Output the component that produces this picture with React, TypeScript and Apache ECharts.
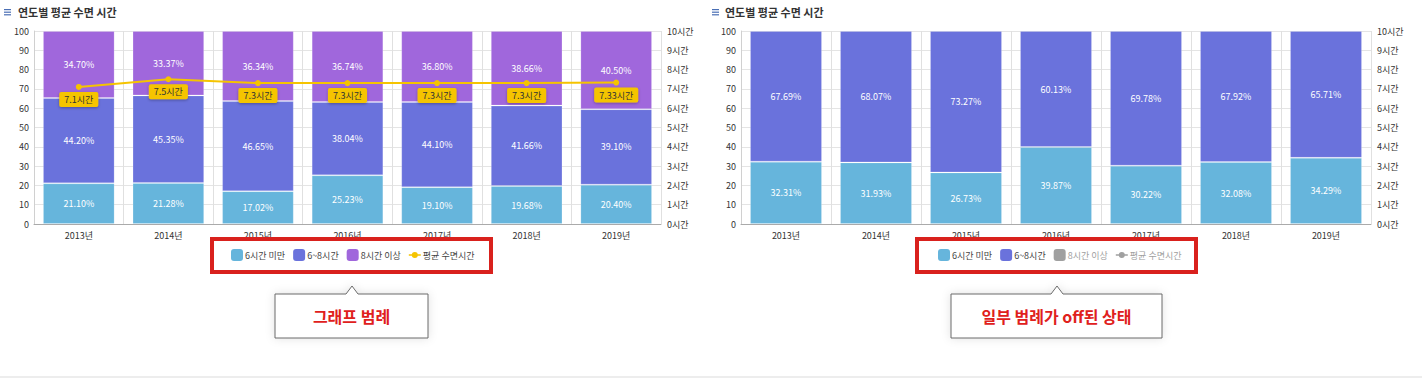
import React, { useEffect, useRef } from "react";
import * as echarts from "echarts";

const years = ["2013년", "2014년", "2015년", "2016년", "2017년", "2018년", "2019년"];
const under6 = [21.1, 21.28, 17.02, 25.23, 19.1, 19.68, 20.4];
const mid6to8 = [44.2, 45.35, 46.65, 38.04, 44.1, 41.66, 39.1];
const over8 = [34.7, 33.37, 36.34, 36.74, 36.8, 38.66, 40.5];
const avgHours = [7.1, 7.5, 7.3, 7.3, 7.3, 7.3, 7.33];

const under6Off = [32.31, 31.93, 26.73, 39.87, 30.22, 32.08, 34.29];
const mid6to8Off = [67.69, 68.07, 73.27, 60.13, 69.78, 67.92, 65.71];

const seriesNames = ["6시간 미만", "6~8시간", "8시간 이상", "평균 수면시간"];
const leftTicks = { min: 0, max: 100, interval: 10 };
const rightTicks = { min: 0, max: 10, interval: 1 };

const FONT = "'Noto Sans CJK KR', 'Noto Sans', sans-serif";
const C_LIGHT = "#66b5dc";
const C_MID = "#6a72dc";
const C_PURPLE = "#a067dc";
const C_YELLOW = "#f5c400";
const LINE_ICON = "path://M0,5.25H3.2V6.75H0Z M8.8,5.25H12V6.75H8.8Z M9,6A3,3 0 1 1 3,6A3,3 0 1 1 9,6Z";

type Cfg = {
  gridLeft: number;
  gridRight: number;
  titleIconX: number;
  titleX: number;
  legendLeft: number;
  selected: Record<string, boolean>;
  a: number[];
  b: number[];
  c: number[];
  redBox: [number, number, number, number];
  callout: [number, number, number];
  calloutText: string;
};

function buildOption(cfg: Cfg) {
  const barLabel = {
    show: true,
    position: "inside",
    color: "#fff",
    fontSize: 9,
    fontFamily: FONT,
    formatter: (p: any) => Number(p.value).toFixed(2) + "%",
  };
  const barItem = (color: string) => ({
    color,
    borderColor: "rgba(255,255,255,0.18)",
    borderWidth: 1,
  });
  const [bx1, by1, bx2, by2] = cfg.redBox;
  const [cx1, cx2, px] = cfg.callout;
  const cy1 = 294;
  const cy2 = 338;
  return {
    animation: false,
    textStyle: { fontFamily: FONT },
    grid: { left: cfg.gridLeft, right: cfg.gridRight, top: 31, bottom: 154, containLabel: false },
    legend: {
      left: cfg.legendLeft,
      top: 249,
      padding: 0,
      itemWidth: 12,
      itemHeight: 12,
      itemGap: 8,
      symbolKeepAspect: true,
      inactiveColor: "#a0a0a0",
      inactiveBorderWidth: 0,
      itemStyle: { borderWidth: 0 },
      textStyle: { fontSize: 9, color: "#444", fontFamily: FONT, padding: [0, 0, 0, -3] },
      selected: cfg.selected,
      data: [
        { name: seriesNames[0], icon: "roundRect" },
        { name: seriesNames[1], icon: "roundRect" },
        { name: seriesNames[2], icon: "roundRect" },
        { name: seriesNames[3], icon: LINE_ICON },
      ],
    },
    xAxis: {
      type: "category",
      data: years,
      axisTick: { show: false },
      axisLine: { lineStyle: { color: "#aaa" } },
      axisLabel: { fontSize: 9, color: "#333", margin: 7 },
      splitLine: { show: true, lineStyle: { color: "#e0e0e0" } },
    },
    yAxis: [
      {
        type: "value",
        min: leftTicks.min,
        max: leftTicks.max,
        interval: leftTicks.interval,
        axisLabel: { fontSize: 9, color: "#333", margin: 5 },
        axisLine: { show: true, lineStyle: { color: "#d0d0d0" } },
        splitLine: { lineStyle: { color: "#e4e4e4" } },
      },
      {
        type: "value",
        position: "right",
        min: rightTicks.min,
        max: rightTicks.max,
        interval: rightTicks.interval,
        axisLabel: { fontSize: 9, color: "#333", margin: 6, formatter: "{value}시간" },
        axisLine: { show: false },
        splitLine: { show: false },
      },
    ],
    series: [
      { name: seriesNames[0], type: "bar", stack: "s", barCategoryGap: "20%", data: cfg.a, itemStyle: barItem(C_LIGHT), label: barLabel },
      { name: seriesNames[1], type: "bar", stack: "s", data: cfg.b, itemStyle: barItem(C_MID), label: barLabel },
      { name: seriesNames[2], type: "bar", stack: "s", data: cfg.c, itemStyle: barItem(C_PURPLE), label: barLabel },
      {
        name: seriesNames[3],
        type: "line",
        yAxisIndex: 1,
        data: avgHours,
        symbol: "circle",
        symbolSize: 6,
        itemStyle: { color: C_YELLOW },
        lineStyle: { color: C_YELLOW, width: 2 },
        z: 5,
        label: {
          show: true,
          position: "bottom",
          distance: 2,
          formatter: (p: any) => p.value + "시간",
          backgroundColor: C_YELLOW,
          color: "#333",
          fontSize: 9,
          padding: [3, 5],
          borderRadius: 2,
          shadowBlur: 3,
          shadowColor: "rgba(0,0,0,0.3)",
          shadowOffsetY: 1,
        },
      },
    ],
    graphic: [
      { type: "rect", shape: { x: cfg.titleIconX, y: 9, width: 7, height: 1.2 }, style: { fill: "#4a6fb5" } },
      { type: "rect", shape: { x: cfg.titleIconX, y: 11.6, width: 7, height: 1.2 }, style: { fill: "#4a6fb5" } },
      { type: "rect", shape: { x: cfg.titleIconX, y: 14.2, width: 7, height: 1.2 }, style: { fill: "#4a6fb5" } },
      {
        type: "text",
        x: cfg.titleX,
        y: 12,
        style: { text: "연도별 평균 수면 시간", fontSize: 11, fontWeight: "bold", fill: "#333", fontFamily: FONT, verticalAlign: "middle" },
      },
      {
        type: "rect",
        z: 100,
        shape: { x: bx1 + 2, y: by1 + 2, width: bx2 - bx1 - 4, height: by2 - by1 - 4 },
        style: { fill: "none", stroke: "#d9211d", lineWidth: 4 },
      },
      {
        type: "polygon",
        z: 100,
        shape: {
          points: [
            [cx1, cy1],
            [px - 6, cy1],
            [px, cy1 - 8],
            [px + 6, cy1],
            [cx2, cy1],
            [cx2, cy2],
            [cx1, cy2],
          ],
        },
        style: { fill: "#fff", stroke: "#6a6a6a", lineWidth: 1, shadowBlur: 10, shadowColor: "rgba(0,0,0,0.12)" },
      },
      {
        type: "text",
        z: 101,
        x: (cx1 + cx2) / 2,
        y: (cy1 + cy2) / 2,
        style: { text: cfg.calloutText, fontSize: 16, fontWeight: "bold", fill: "#e0201c", fontFamily: FONT, align: "center", verticalAlign: "middle" },
      },
      { type: "rect", shape: { x: 0, y: 376.5, width: 711, height: 1 }, style: { fill: "#dcdcdc" } },
    ],
  };
}

function Chart({ left, cfg }: { left: number; cfg: Cfg }) {
  const ref = useRef<HTMLDivElement>(null);
  useEffect(() => {
    if (!ref.current) return;
    const chart = echarts.init(ref.current, undefined, { renderer: "svg" });
    chart.setOption(buildOption(cfg) as any);
    return () => chart.dispose();
  }, []);
  return <div ref={ref} style={{ position: "absolute", left, top: 0, width: 711, height: 378 }} />;
}

export default function App() {
  const leftCfg: Cfg = {
    gridLeft: 34,
    gridRight: 50,
    titleIconX: 4,
    titleX: 18,
    legendLeft: 231,
    selected: {},
    a: under6,
    b: mid6to8,
    c: over8,
    redBox: [210, 237, 493, 274],
    callout: [275, 428, 352],
    calloutText: "그래프 범례",
  };
  const rightCfg: Cfg = {
    gridLeft: 30,
    gridRight: 51,
    titleIconX: 1,
    titleX: 14,
    legendLeft: 227,
    selected: { "8시간 이상": false, "평균 수면시간": false },
    a: under6Off,
    b: mid6to8Off,
    c: over8,
    redBox: [204, 237, 487, 274],
    callout: [240, 451, 346],
    calloutText: "일부 범례가 off된 상태",
  };
  return (
    <div style={{ position: "absolute", left: 0, top: 0, width: 1422, height: 378, background: "#fff", overflow: "hidden" }}>
      <Chart left={0} cfg={leftCfg} />
      <Chart left={711} cfg={rightCfg} />
    </div>
  );
}
